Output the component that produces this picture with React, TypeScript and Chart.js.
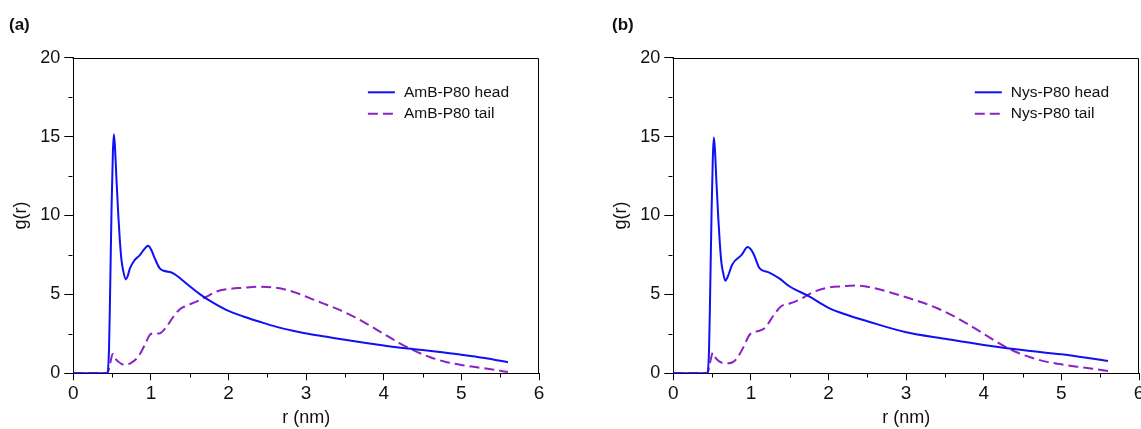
import React, { useEffect, useRef } from 'react';
import { Chart, registerables } from 'chart.js';

Chart.register(...registerables);

const FONT = '"Liberation Sans", Arial, Helvetica, sans-serif';

// ---------- data ----------
const panelLabels = ['(a)', '(b)'];
const xTitle = 'r (nm)';
const yTitle = 'g(r)';
const xMajorTicks = [0, 1, 2, 3, 4, 5, 6];
const yMajorTicks = [0, 5, 10, 15, 20];
const xMinorTicks = [0.5, 1.5, 2.5, 3.5, 4.5, 5.5];
const yMinorTicks = [2.5, 7.5, 12.5, 17.5];

const labelsA = ['AmB-P80 head', 'AmB-P80 tail'];
const labelsB = ['Nys-P80 head', 'Nys-P80 tail'];

// Panel (a) AmB-P80 head
const rHeadA = [0, 0.44, 0.46, 0.471, 0.493, 0.51, 0.523, 0.535, 0.557, 0.58, 0.6, 0.62, 0.643, 0.677, 0.7, 0.73, 0.79, 0.857, 0.92, 0.964, 1.007, 1.05, 1.114, 1.179, 1.264, 1.33, 1.414, 1.5, 1.63, 1.757, 1.97, 2.19, 2.4, 2.61, 2.83, 3.04, 3.3, 3.5, 3.75, 4.0, 4.25, 4.5, 4.75, 5.0, 5.3, 5.6];
const gHeadA = [0, 0, 1.5, 4.2, 10.5, 14.0, 15.15, 14.5, 12.2, 10.0, 8.4, 7.2, 6.5, 5.95, 6.15, 6.65, 7.17, 7.49, 7.9, 8.08, 7.8, 7.28, 6.65, 6.48, 6.39, 6.2, 5.86, 5.52, 5.02, 4.6, 4.02, 3.6, 3.27, 2.96, 2.7, 2.49, 2.28, 2.12, 1.93, 1.76, 1.6, 1.47, 1.33, 1.18, 0.97, 0.7];

// Panel (a) AmB-P80 tail
const rTailA = [0, 0.44, 0.47, 0.5, 0.514, 0.54, 0.58, 0.62, 0.664, 0.75, 0.836, 0.92, 0.986, 1.03, 1.11, 1.2, 1.29, 1.37, 1.457, 1.586, 1.714, 1.84, 1.97, 2.19, 2.4, 2.61, 2.83, 3.04, 3.2, 3.4, 3.6, 3.8, 4.0, 4.2, 4.4, 4.6, 4.8, 5.0, 5.2, 5.4, 5.6];
const gTailA = [0, 0, 0.5, 1.16, 1.22, 0.95, 0.74, 0.6, 0.53, 0.68, 1.05, 1.79, 2.43, 2.53, 2.53, 2.95, 3.59, 4.05, 4.28, 4.54, 4.85, 5.17, 5.32, 5.42, 5.49, 5.42, 5.17, 4.78, 4.46, 4.08, 3.62, 3.08, 2.5, 1.92, 1.42, 1.02, 0.72, 0.53, 0.38, 0.24, 0.08];

// Panel (b) Nys-P80 head
const rHeadB = [0, 0.44, 0.46, 0.471, 0.493, 0.51, 0.523, 0.535, 0.557, 0.58, 0.6, 0.62, 0.643, 0.67, 0.7, 0.76, 0.88, 0.958, 1.0, 1.04, 1.11, 1.23, 1.37, 1.5, 1.74, 2.0, 2.25, 2.5, 3.0, 3.5, 4.0, 4.5, 5.0, 5.3, 5.6];
const gHeadB = [0, 0, 1.4, 4.0, 10.2, 13.8, 14.95, 14.3, 12.0, 9.8, 8.2, 7.0, 6.35, 5.87, 6.1, 6.9, 7.5, 8.0, 7.85, 7.5, 6.67, 6.4, 6.0, 5.5, 4.9, 4.15, 3.68, 3.3, 2.6, 2.19, 1.8, 1.47, 1.2, 1.0, 0.78];

// Panel (b) Nys-P80 tail
const rTailB = [0, 0.44, 0.47, 0.51, 0.55, 0.625, 0.72, 0.81, 0.9, 0.986, 1.09, 1.18, 1.3, 1.39, 1.5, 1.64, 1.78, 1.97, 2.2, 2.34, 2.57, 2.8, 3.0, 3.2, 3.4, 3.6, 3.8, 4.0, 4.2, 4.4, 4.6, 4.8, 5.0, 5.2, 5.4, 5.6];
const gTailB = [0, 0, 0.6, 1.3, 0.95, 0.67, 0.63, 0.88, 1.62, 2.46, 2.67, 2.88, 3.73, 4.25, 4.42, 4.7, 5.1, 5.41, 5.52, 5.56, 5.42, 5.12, 4.82, 4.5, 4.12, 3.66, 3.1, 2.5, 1.9, 1.38, 1.02, 0.74, 0.57, 0.42, 0.29, 0.15];

// ---------- styles ----------
const HEAD_COLOR = '#1010f5';
const TAIL_COLOR = '#8a22c8';

const zip = (xs: number[], ys: number[]) => xs.map((x, i) => ({ x, y: ys[i] }));

const decorPlugin = {
  id: 'decor',
  afterDraw(chart: any) {
    const { ctx, chartArea: a, scales } = chart;
    const xs = scales.x;
    const ys = scales.y;
    ctx.save();
    ctx.strokeStyle = '#000';
    ctx.lineWidth = 1;
    const top = Math.round(a.top) + 0.5;
    const right = Math.round(a.right) - 0.5;
    const bottom = Math.round(a.bottom) + 0.5;
    const left = Math.round(a.left) - 0.5;
    ctx.beginPath();
    ctx.moveTo(left, top);
    ctx.lineTo(right, top);
    ctx.lineTo(right, bottom);
    ctx.stroke();
    // minor ticks
    ctx.beginPath();
    xMinorTicks.forEach((v) => {
      const px = Math.round(xs.getPixelForValue(v)) + 0.5;
      ctx.moveTo(px, bottom);
      ctx.lineTo(px, bottom + 4);
    });
    yMinorTicks.forEach((v) => {
      const py = Math.round(ys.getPixelForValue(v)) + 0.5;
      ctx.moveTo(left, py);
      ctx.lineTo(left - 4, py);
    });
    ctx.stroke();

    // legend
    ctx.font = `15.5px ${FONT}`;
    ctx.textBaseline = 'middle';
    ctx.textAlign = 'left';
    const dsets = chart.data.datasets;
    const maxW = Math.max(...dsets.map((d: any) => ctx.measureText(d.label).width));
    const textX = a.right - 30 - maxW;
    dsets.forEach((d: any, i: number) => {
      const yy = a.top + 34.6 + i * 21.5;
      ctx.save();
      ctx.strokeStyle = d.borderColor;
      ctx.lineWidth = 2;
      ctx.setLineDash(d.borderDash || []);
      ctx.beginPath();
      ctx.moveTo(textX - 36, yy);
      ctx.lineTo(textX - 9, yy);
      ctx.stroke();
      ctx.restore();
      ctx.fillStyle = '#111';
      ctx.fillText(d.label, textX, yy);
    });
    ctx.restore();
  },
};

function Panel({ labels, head, tail }: { labels: string[]; head: { x: number; y: number }[]; tail: { x: number; y: number }[] }) {
  const ref = useRef<HTMLCanvasElement>(null);
  useEffect(() => {
    if (!ref.current) return;
    const chart = new Chart(ref.current, {
      type: 'line',
      data: {
        datasets: [
          {
            label: labels[0],
            data: head,
            borderColor: HEAD_COLOR,
            borderWidth: 2,
            pointRadius: 0,
            cubicInterpolationMode: 'monotone',
            fill: false,
          },
          {
            label: labels[1],
            data: tail,
            borderColor: TAIL_COLOR,
            borderWidth: 2,
            borderDash: [10, 5],
            pointRadius: 0,
            cubicInterpolationMode: 'monotone',
            fill: false,
          },
        ],
      },
      options: {
        responsive: false,
        animation: false,
        events: [],
        layout: { padding: { left: 0, top: 57.7, right: 31, bottom: 0 } },
        plugins: { legend: { display: false }, tooltip: { enabled: false } },
        scales: {
          x: {
            type: 'linear',
            min: 0,
            max: 6,
            afterFit: (s: any) => { s.height = 55.7; },
            afterBuildTicks: (s: any) => { s.ticks = xMajorTicks.map((v) => ({ value: v })); },
            ticks: { color: '#111', font: { family: FONT, size: 19 }, padding: 2, maxRotation: 0, autoSkip: false },
            grid: { drawOnChartArea: false, drawTicks: true, tickLength: 7, tickColor: '#000', tickWidth: 1 },
            border: { display: true, color: '#000', width: 1 },
            title: { display: true, text: xTitle, color: '#111', font: { family: FONT, size: 18 }, padding: { top: 0, bottom: 0 } },
          },
          y: {
            type: 'linear',
            min: 0,
            max: 20,
            afterFit: (s: any) => { s.width = 73.3; },
            afterBuildTicks: (s: any) => { s.ticks = yMajorTicks.map((v) => ({ value: v })); },
            ticks: { color: '#111', font: { family: FONT, size: 18 }, padding: 4 },
            grid: { drawOnChartArea: false, drawTicks: true, tickLength: 9, tickColor: '#000', tickWidth: 1 },
            border: { display: true, color: '#000', width: 1 },
            title: { display: true, text: yTitle, color: '#111', font: { family: FONT, size: 18 }, padding: { top: 10, bottom: 0 } },
          },
        },
      } as any,
      plugins: [decorPlugin],
    });
    return () => chart.destroy();
  }, []);
  return <canvas ref={ref} width={570} height={429} style={{ display: 'block' }} />;
}

export default function App() {
  const labelStyle: React.CSSProperties = {
    position: 'absolute',
    top: 15,
    fontFamily: FONT,
    fontWeight: 'bold',
    fontSize: 17,
    color: '#111',
  };
  return (
    <div style={{ position: 'fixed', left: 0, top: 0, width: 1141, height: 429, overflow: 'hidden', background: '#fff' }}>
      <div style={{ position: 'absolute', left: 0, top: 0 }}>
        <Panel labels={labelsA} head={zip(rHeadA, gHeadA)} tail={zip(rTailA, gTailA)} />
      </div>
      <div style={{ position: 'absolute', left: 600, top: 0 }}>
        <Panel labels={labelsB} head={zip(rHeadB, gHeadB)} tail={zip(rTailB, gTailB)} />
      </div>
      <div style={{ ...labelStyle, left: 9 }}>{panelLabels[0]}</div>
      <div style={{ ...labelStyle, left: 612 }}>{panelLabels[1]}</div>
    </div>
  );
}
